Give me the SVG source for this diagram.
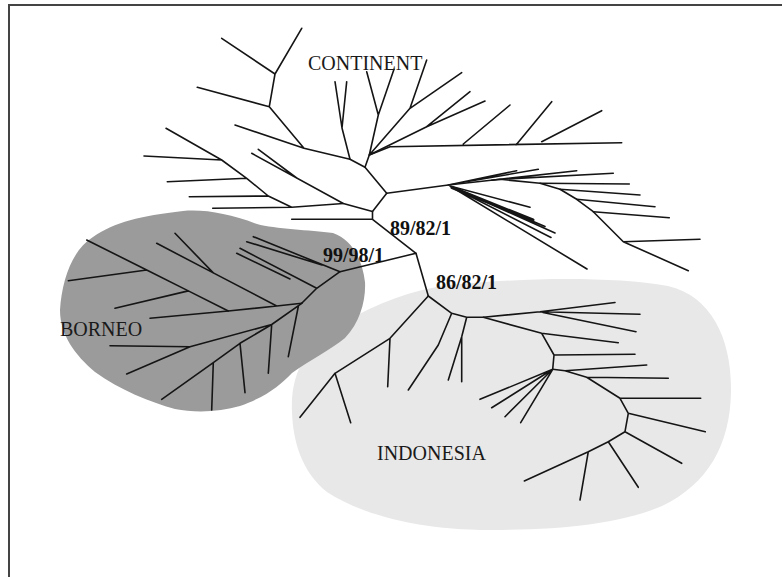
<svg xmlns="http://www.w3.org/2000/svg" width="782" height="577" viewBox="0 0 782 577">
<style>
.edge{fill:none;stroke:#151515;stroke-width:1.6;stroke-linecap:round;stroke-linejoin:round}
.thick{stroke-width:3}
.lbl{font-family:"Liberation Serif","Times New Roman",serif;font-size:20px;fill:#1a1a1a}
.sup{font-family:"Liberation Serif","Times New Roman",serif;font-size:20px;font-weight:bold;fill:#111}
.frame{stroke:#444;stroke-width:2;fill:none}
</style>
<rect width="782" height="577" fill="#ffffff"/>
<path class="frame" d="M9,577 L9,5 L782,5"/>

<g id="indonesia-region">
<path d="M292,412 C290,372 308,342 343,323 C378,303 410,290 450,285 C520,278 610,276 668,286 C712,296 732,340 731,392 C730,445 708,484 662,506 C620,524 560,530 490,530 C420,530 362,515 327,492 C302,472 293,442 292,412 Z" fill="#e8e8e8"/>
</g>
<g id="borneo-region">
<path d="M60,310 C62,280 72,250 93,237 C115,222 140,216 183,211 C205,209 230,214 257,224 C275,229 310,230 333,233 C352,240 362,258 365,282 C366,300 360,322 345,338 C330,350 310,360 292,373 C280,385 268,396 240,406 C220,412 195,413 175,409 C150,402 120,390 95,372 C75,355 60,335 60,310 Z" fill="#9b9b9b"/>
</g>

<g id="connectors">
<path class="edge" d="M301.7,28.3 L275,74 L221.7,38.3 M275,74 L269.3,106.7 L197.3,87.3 M269.3,106.7 L304,148.3 L235,125 M304,148.3 L350,159.3 L365,167.3 L386.7,193.3"/>
<path class="edge" d="M335,81.7 L342,128 L346.7,81.7 M342,128 L350,159.3 M365,167.3 L369.3,155"/>
<path class="edge" d="M366.7,71.7 L378.3,115 L394,69.3 M378.3,115 L369.3,155 M426.7,60 L410,108.3 L461.7,72.7 M410,108.3 L369.3,155 M470,91.7 L426.7,126.7 L485,101 M426.7,126.7 L369.3,155"/>
<path class="edge" d="M369.3,155 L390,146.7 L621.7,142.7 M463.3,144 L510,105 M516,145 L551.7,101.7 M541.7,141.7 L601.7,110.7"/>
<path class="edge" d="M386.7,193.3 L372.5,211.5 L372.5,219.3 L416,253.3 M372.5,219.3 L291.7,219.3"/>
<path class="edge" d="M372.5,211.5 L343.3,203.5 L251.7,153.3 M296.7,178 L258.3,149.3"/>
<path class="edge" d="M343.3,203.5 L291.7,207.3 L268.3,196 L246.7,178.3 L221.7,160 L166,128.3 M221.7,160 L144,156 M246.7,178.3 L167.3,181.7 M268.3,196 L189.3,196.7 M291.7,207.3 L212.7,208.3"/>
<path class="edge" d="M386.7,193.3 L448.3,185 L500,179.3 L540,183.3 L560,189.3 L576.7,199.3 L593.3,211.7 L623.3,241.7 L688.3,270.7 M623.3,241.7 L700,239.3"/>
<path class="edge" d="M448.3,185 L516.7,170.7 M462,182.5 L538.3,169.3 M491.7,180.2 L576.7,170.7 M500,179.3 L613.3,173.3 M540,183.3 L629.3,184 M560,189.3 L640,195 M576.7,199.3 L655,206.7 M593.3,211.7 L669.3,217.7"/>
<path class="edge" d="M450,186 L530,207.3 M450,186 L545,226.5 M450,186 L555,233 M450,186 L551,237.5 M450,186 L587,269"/>
<path class="edge thick" d="M452,187.5 L533,220"/>
<path class="edge" d="M416,253.3 L340,271.7 M416,253.3 L428.3,296"/>
<path class="edge" d="M253.3,236.7 L340,271.7 L316.7,288.3 L301.7,303.3 M246.7,241.7 L322,265 M240,248.3 L316.7,288.3 M236.7,253.3 L290,279"/>
<path class="edge" d="M301.7,303.3 L276.7,306 L228.3,311 L150,318.3 M276.7,306 L213.3,272.9 L156.7,243.3 M213.3,272.9 L175,233.3"/>
<path class="edge" d="M228.3,311 L188.3,290.9 L146.7,270 L86.7,240 M188.3,290.9 L115,308.3 M146.7,270 L68.3,280.7"/>
<path class="edge" d="M301.7,303.3 L271.7,324.5 L190,346.7 L126.7,374 M190,346.7 L110,345.7 M271.7,324.5 L240,343.3 L213.3,362.7 L161.7,399.3 M271.7,324.5 L268.3,373.3 M240,343.3 L245,392.7 M213.3,362.7 L211.7,410 M298.5,305.5 L288.3,356.7"/>
<path class="edge" d="M428.3,296 L390,338.3 L335,373.3 L300,417.3 M390,338.3 L387.7,386.7 M335,373.3 L350.7,422.7"/>
<path class="edge" d="M428.3,296 L451.7,313.3 L466.7,317.3 L483.3,317.3 L540,311.7 L615,302.5 M451.7,313.3 L438.3,345 L408.3,390 M466.7,317.3 L461.7,336.7 L448.3,380 M461.7,336.7 L461.7,381.7 M540,311.7 L640,314.3 M543,312.5 L636,331.7"/>
<path class="edge" d="M483.3,317.3 L541.7,333.3 L618.3,342.7 M541.7,333.3 L554,355 L635,354.3 M554,355 L552.7,369.3 M552.7,369.3 L480,399.3 M552.7,369.3 L491.7,407.7 M552.7,369.3 L505,416.7 M552.7,369.3 L520.7,422.7"/>
<path class="edge" d="M552.7,369.3 L565,370.7 L586.7,377.3 L620,398.3 L628.3,413.3 L625,431.7 L608.3,441.7 L588.3,451.7 L524.3,481 M565,370.7 L646.7,365 M586.7,377.3 L668.3,378.3 M620,398.3 L700.7,398.3 M628.3,413.3 L705.3,431.7 M625,431.7 L681.7,463.3 M608.3,441.7 L638.3,487.3 M588.3,451.7 L580,500"/>
</g>

<g id="label-continent"><text class="lbl" x="308" y="70">CONTINENT</text></g>
<g id="label-borneo"><text class="lbl" x="60" y="336" fill="#222">BORNEO</text></g>
<g id="label-indonesia"><text class="lbl" x="377" y="460">INDONESIA</text></g>
<g id="support-89"><text class="sup" x="390" y="235">89/82/1</text></g>
<g id="support-99"><text class="sup" x="323" y="262">99/98/1</text></g>
<g id="support-86"><text class="sup" x="436" y="289">86/82/1</text></g>
</svg>
